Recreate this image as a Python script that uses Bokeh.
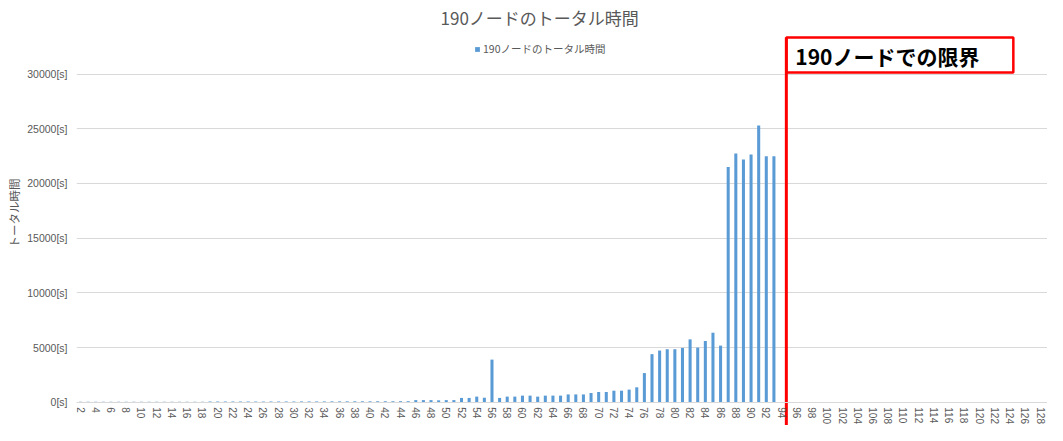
from bokeh.plotting import figure
from bokeh.models import (Range1d, FixedTicker, PrintfTickFormatter, LinearAxis,
                          Legend, LegendItem)
from bokeh.core.properties import value
from bokeh.embed import file_html
from bokeh.resources import INLINE

# ---------------- data ----------------
title_text = "190ノードのトータル時間"
series_name = "190ノードのトータル時間"
y_axis_title = "トータル時間"
limit_text = "190ノードでの限界"

nodes = list(range(2, 94))
times = [
    40, 40, 40, 45, 45, 45, 50, 50, 50,                 # 2-10
    50, 55, 55, 55, 60, 60, 60, 60, 65, 65,             # 11-20
    65, 65, 70, 70, 70, 70, 75, 75, 75, 75,             # 21-30
    80, 80, 80, 80, 85, 85, 85, 90, 90, 90, 95, 95, 95, 100, 100,  # 31-45
    200, 200, 200, 180, 200, 200, 400, 400, 520, 420,   # 46-55
    3900, 400, 520, 520, 610, 610, 520, 610, 610, 610,  # 56-65
    720, 720, 720, 850, 940, 940, 1060, 1060, 1160, 1370,  # 66-75
    2670, 4400, 4730, 4850, 4850, 4970, 5750, 5000, 5600, 6360,  # 76-85
    5180, 21500, 22730, 22180, 22640, 25300, 22480, 22480,  # 86-93
]
x_ticks = list(range(2, 131, 2))
y_ticks = [0, 5000, 10000, 15000, 20000, 25000, 30000]
limit_node = 94

# ---------------- layout ----------------
FW, FH = 1047, 425
LEFT = 76
STEP = 7.62                       # px per category
X0 = 2 - 4 / STEP
X1 = X0 + (FW - LEFT) / STEP
VPP = 30000 / 328.3               # value per pixel
ZERO_PX = 401.8                   # px of y = 0
Y_END = ZERO_PX * VPP
Y_START = -(FH - ZERO_PX) * VPP


def dx(px):
    return X0 + (px - LEFT) / STEP


def dy(py):
    return Y_END - py * VPP


GREY = "#595959"
BLUE = "#5B9BD5"

p = figure(width=FW, height=FH, x_range=Range1d(X0, X1), y_range=Range1d(Y_START, Y_END),
           output_backend="svg", toolbar_location=None, x_axis_location=None,
           min_border_left=LEFT, min_border_right=0, min_border_top=0, min_border_bottom=0)
p.outline_line_color = None
p.background_fill_color = "white"
p.border_fill_color = "white"

# y axis
ya = p.yaxis[0]
ya.ticker = FixedTicker(ticks=y_ticks)
ya.formatter = PrintfTickFormatter(format="%d[s]")
ya.major_label_text_font = "Liberation Sans"
ya.major_label_text_font_size = "10.5px"
ya.major_label_text_color = GREY
ya.major_label_standoff = 9
ya.major_tick_out = 0
ya.major_tick_in = 0
ya.minor_tick_out = 0
ya.minor_tick_in = 0
ya.axis_line_color = None
ya.axis_label = y_axis_title
ya.axis_label_text_font = "Noto Sans CJK JP"
ya.axis_label_text_font_size = "11.5px"
ya.axis_label_text_font_style = "normal"
ya.axis_label_text_color = GREY
ya.axis_label_standoff = 2

# x axis at y = 0
xa = LinearAxis(fixed_location=0, ticker=FixedTicker(ticks=x_ticks))
xa.major_label_orientation = "vertical"
xa.major_label_text_font = "Liberation Sans"
xa.major_label_text_font_size = "10px"
xa.major_label_text_color = GREY
xa.major_label_standoff = 5
xa.major_tick_out = 0
xa.major_tick_in = 0
xa.minor_tick_out = 0
xa.minor_tick_in = 0
xa.axis_line_color = "#D9D9D9"
p.add_layout(xa, "below")

p.xgrid.visible = False
p.ygrid.ticker = FixedTicker(ticks=y_ticks)
p.ygrid.grid_line_color = "#D9D9D9"

bars = p.vbar(x=nodes, top=times, width=0.4, fill_color=BLUE, line_color=None)

legend = Legend(items=[LegendItem(label=series_name, renderers=[bars])],
                location=(398, 369), orientation="horizontal",
                glyph_width=6, glyph_height=6, label_height=10,
                label_text_font="Noto Sans CJK JP", label_text_font_size="10.5px",
                label_text_color=GREY, label_standoff=3, padding=0, margin=0, spacing=0,
                border_line_color=None, background_fill_alpha=0)
p.add_layout(legend)

# title
p.text(x=[dx(539.2)], y=[dy(17)], text=[title_text], text_font=value("Noto Sans CJK JP"),
       text_font_size="17px", text_color=GREY, text_align="center", text_baseline="middle")

# limit annotation (just right of the 94-node category)
lx = limit_node + 0.63
lx_px = LEFT + (lx - X0) * STEP
p.quad(left=[lx], right=[dx(lx_px + 227)], bottom=[dy(72)], top=[dy(37)],
       fill_color="white", line_color="#FF0000", line_width=2.5)
p.segment(x0=[lx], x1=[lx], y0=[Y_START], y1=[dy(37)], line_color="#FF0000", line_width=3)
p.text(x=[dx(lx_px + 9)], y=[dy(55)], text=[limit_text], text_font=value("Noto Sans CJK JP"),
       text_font_size="21px", text_font_style="bold", text_color="black",
       text_align="left", text_baseline="middle")

open("out.html", "w").write(file_html(p, INLINE))
